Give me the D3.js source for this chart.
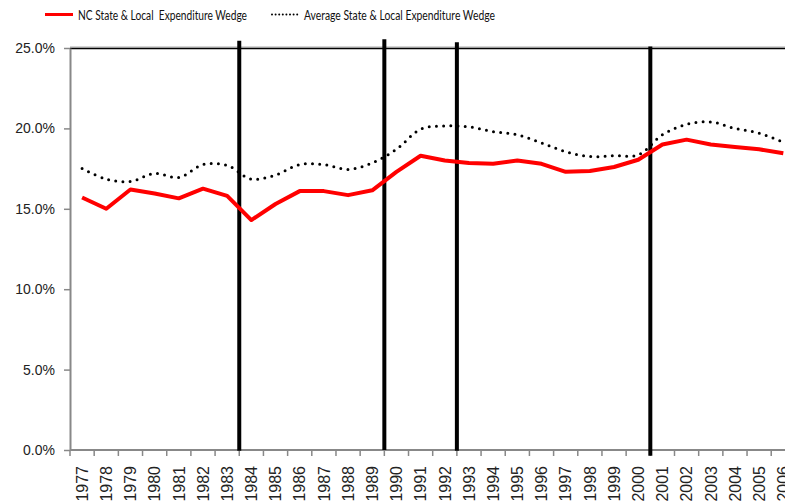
<!DOCTYPE html>
<html>
<head>
<meta charset="utf-8">
<script src="https://cdn.jsdelivr.net/npm/d3@7"></script>
<style>
  body { margin: 0; background: #fff; overflow: hidden; }
  svg { display: block; }
</style>
</head>
<body>
<div id="chart"></div>
<script>
// data
const years = d3.range(1977, 2007);
const ncWedge = [15.7, 15.0, 16.2, 15.95, 15.65, 16.25, 15.8, 14.3, 15.3, 16.1,
                 16.1, 15.85, 16.15, 17.3, 18.3, 18.0, 17.85, 17.8, 18.0, 17.8,
                 17.3, 17.35, 17.6, 18.05, 19.0, 19.3, 19.0, 18.85, 18.7, 18.45];
const avgWedge = [17.5, 16.85, 16.7, 17.2, 16.95, 17.75, 17.7, 16.85, 17.1, 17.75,
                  17.75, 17.45, 17.85, 18.7, 19.95, 20.15, 20.1, 19.8, 19.6, 19.1,
                  18.55, 18.25, 18.3, 18.35, 19.6, 20.25, 20.4, 20.0, 19.7, 19.15];
const yTicks = [0, 5, 10, 15, 20, 25];
// black vertical markers, drawn at the start of these years
const markerYears = [1984, 1990, 1993, 2001];
const markerTop = [25.45, 25.55, 25.35, 25.1];
const markerBottom = [-0.05, 0, -0.05, -0.35];
const seriesNames = ['NC State & Local  Expenditure Wedge', 'Average State & Local Expenditure Wedge'];

const W = 785, H = 504;
const svg = d3.select('#chart').append('svg').attr('width', W).attr('height', H);

const x = d3.scaleBand().domain(years).range([70, 795.4]);
const y = d3.scaleLinear().domain([0, 25]).range([450, 48]);
const cx = d => x(d) + x.bandwidth() / 2;

// top border of plot area
svg.append('line')
  .attr('x1', 70).attr('x2', W)
  .attr('y1', y(25) - 1).attr('y2', y(25) - 1)
  .attr('stroke', '#aaa').attr('stroke-width', 1);
svg.append('line')
  .attr('x1', 70).attr('x2', W)
  .attr('y1', y(25) + 0.5).attr('y2', y(25) + 0.5)
  .attr('stroke', '#000').attr('stroke-width', 1.5);

// y axis
const yAxis = svg.append('g').attr('transform', 'translate(70,0)')
  .call(d3.axisLeft(y).tickValues(yTicks).tickSize(6).tickSizeOuter(0)
    .tickFormat(d => d.toFixed(1) + '%'));
yAxis.select('.domain').attr('stroke', '#888').attr('stroke-width', 2);
yAxis.selectAll('.tick line').attr('stroke', '#888').attr('stroke-width', 1.5);
yAxis.selectAll('.tick text')
  .attr('x', -15)
  .style('font-family', '"Liberation Sans", Arial, sans-serif')
  .style('font-size', '14px').attr('fill', '#222');

// x axis: ticks between categories
const xg = svg.append('g').attr('transform', 'translate(0,450)');
xg.append('line').attr('x1', 70).attr('x2', W).attr('stroke', '#888').attr('stroke-width', 2);
xg.selectAll('line.tk').data(years.concat([2007])).join('line')
  .attr('class', 'tk')
  .attr('x1', (d, i) => 70 + i * x.step()).attr('x2', (d, i) => 70 + i * x.step())
  .attr('y1', 0).attr('y2', 6)
  .attr('stroke', '#888').attr('stroke-width', 1.5);
xg.selectAll('text').data(years).join('text')
  .attr('transform', d => `translate(${cx(d)},16) rotate(-90)`)
  .attr('text-anchor', 'end')
  .attr('dy', '0.36em')
  .style('font-family', '"Liberation Sans", Arial, sans-serif')
  .style('font-size', '16px').attr('fill', '#222')
  .text(d => d);

// vertical markers
svg.selectAll('line.marker').data(markerYears).join('line')
  .attr('class', 'marker')
  .attr('x1', d => x(d)).attr('x2', d => x(d))
  .attr('y1', (d, i) => y(markerTop[i])).attr('y2', (d, i) => y(markerBottom[i]))
  .attr('stroke', '#000').attr('stroke-width', 4);

// series
const ncLine = d3.line().x((d, i) => cx(years[i])).y(d => y(d));
const avgLine = d3.line().x((d, i) => cx(years[i])).y(d => y(d)).curve(d3.curveCatmullRom);

svg.append('path').datum(avgWedge)
  .attr('d', avgLine)
  .attr('fill', 'none').attr('stroke', '#000').attr('stroke-width', 3)
  .attr('stroke-linecap', 'round').attr('stroke-dasharray', '0 7.2');

svg.append('path').datum(ncWedge)
  .attr('d', ncLine)
  .attr('fill', 'none').attr('stroke', '#ff0000').attr('stroke-width', 4)
  .attr('stroke-linejoin', 'round');

// legend
const legend = svg.append('g');
legend.append('line').attr('x1', 45).attr('x2', 73).attr('y1', 14.5).attr('y2', 14.5)
  .attr('stroke', '#ff0000').attr('stroke-width', 3);
legend.append('line').attr('x1', 272).attr('x2', 300).attr('y1', 14.5).attr('y2', 14.5)
  .attr('stroke', '#000').attr('stroke-width', 2)
  .attr('stroke-linecap', 'round').attr('stroke-dasharray', '0 3.6');
legend.selectAll('text').data(seriesNames).join('text')
  .attr('x', (d, i) => i === 0 ? 78 : 304)
  .attr('y', 20)
  .attr('textLength', (d, i) => i === 0 ? 169 : 191)
  .attr('lengthAdjust', 'spacingAndGlyphs')
  .style('white-space', 'pre')
  .style('font-family', 'Lato, "Open Sans", sans-serif')
  .style('font-size', '13.5px').attr('fill', '#111')
  .text(d => d);
</script>
</body>
</html>
